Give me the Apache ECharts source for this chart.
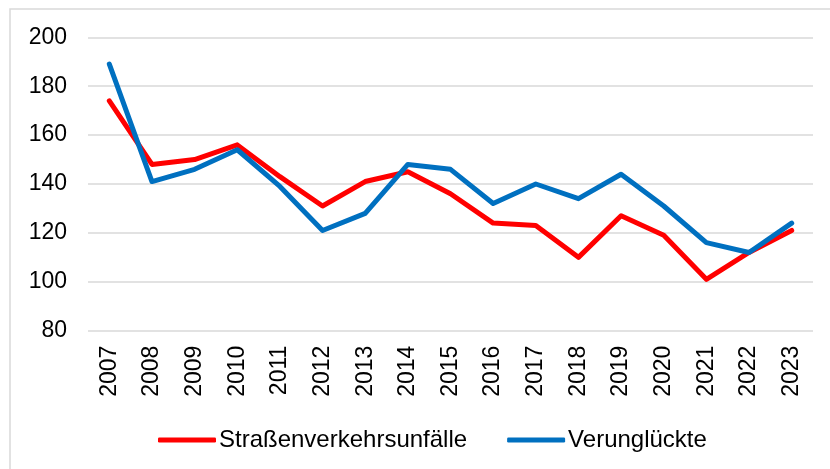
<!DOCTYPE html>
<html>
<head>
<meta charset="utf-8">
<script src="https://cdn.jsdelivr.net/npm/echarts@6/dist/echarts.min.js"></script>
<style>
  html, body { margin: 0; padding: 0; background: #fff; }
  #chart { width: 830px; height: 469px; }
</style>
</head>
<body>
<div id="chart"></div>
<script>
// Jahre (Kategorien)
const years = ['2007', '2008', '2009', '2010', '2011', '2012', '2013', '2014', '2015',
               '2016', '2017', '2018', '2019', '2020', '2021', '2022', '2023'];

// Indexwerte je Jahr
const unfaelle = [174, 148, 150, 156, 143, 131, 141, 145, 136, 124, 123, 110, 127, 119, 101, 112, 121];
const verunglueckte = [189, 141, 146, 154, 139, 121, 128, 148, 146, 132, 140, 134, 144, 131, 116, 112, 124];

const seriesNames = ['Straßenverkehrsunfälle', 'Verunglückte'];
const seriesColors = ['#ff0000', '#0070c0'];

// y-Achse
const yMin = 80, yMax = 200, yStep = 20;

const font = 'Liberation Sans, Arial, sans-serif';
const chart = echarts.init(document.getElementById('chart'), null, { renderer: 'canvas' });

function lineSeries(name, data, color) {
  return {
    name: name,
    type: 'line',
    data: data,
    symbol: 'none',
    smooth: false,
    color: color,
    lineStyle: { color: color, width: 5, cap: 'round', join: 'round' },
    emphasis: { disabled: true }
  };
}

chart.setOption({
  animation: false,
  backgroundColor: '#ffffff',
  textStyle: { fontFamily: font },
  graphic: [{
    type: 'rect',
    shape: { x: 10, y: 9, width: 900, height: 600 },
    style: { fill: 'none', stroke: '#d9d9d9', lineWidth: 1.5 },
    silent: true,
    z: -1
  }],
  grid: { left: 88, right: 17, top: 37.3, bottom: 138.3, containLabel: false },
  legend: {
    data: seriesNames,
    left: 153,
    top: 423,
    icon: 'roundRect',
    itemWidth: 58,
    itemHeight: 5,
    itemGap: 40,
    textStyle: { fontFamily: font, fontSize: 24, color: '#000', padding: [0, 0, 0, -2] }
  },
  xAxis: {
    type: 'category',
    data: years,
    boundaryGap: true,
    axisLine: { show: false },
    axisTick: { show: false },
    axisLabel: { rotate: 90, margin: 15, fontFamily: font, fontSize: 23, color: '#000' },
    splitLine: { show: false }
  },
  yAxis: {
    type: 'value',
    min: yMin,
    max: yMax,
    interval: yStep,
    axisLine: { show: false },
    axisTick: { show: false },
    axisLabel: { margin: 21, fontFamily: font, fontSize: 23, color: '#000' },
    splitLine: { show: true, lineStyle: { color: '#d9d9d9', width: 1.5 } }
  },
  series: [
    lineSeries(seriesNames[0], unfaelle, seriesColors[0]),
    lineSeries(seriesNames[1], verunglueckte, seriesColors[1])
  ]
});
</script>
</body>
</html>
